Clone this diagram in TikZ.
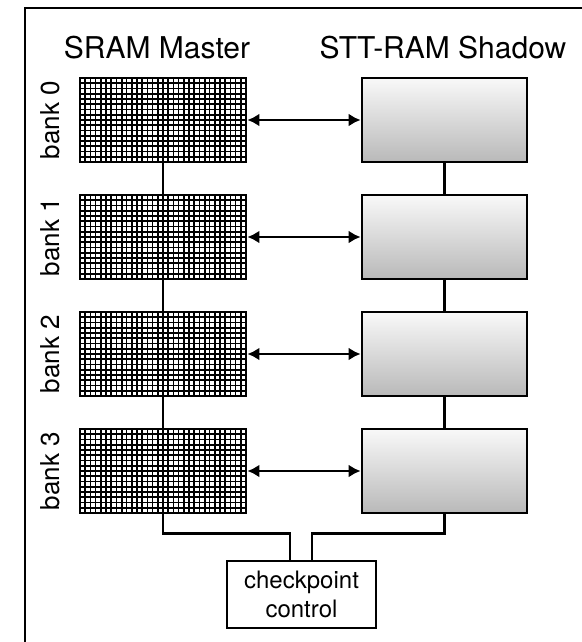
\documentclass[tikz,border=0pt]{standalone}
\usepackage{fontspec}
\setmainfont{TeX Gyre Heros}
\usetikzlibrary{arrows.meta}
\begin{document}
\begin{tikzpicture}[x=0.5pt, y=-0.5pt, line width=1.2pt,
    sram/.style={draw, line width=1.4pt, fill=white, minimum width=83pt, minimum height=42pt, inner sep=0pt},
    stt/.style={draw, line width=1.4pt, top color=gray!5, bottom color=gray!55, minimum width=82.5pt, minimum height=42pt, inner sep=0pt},
    ctrlbox/.style={draw, line width=1.3pt, minimum width=74.5pt, minimum height=33.5pt, align=center, inner sep=0pt, font=\fontsize{12}{14.5}\selectfont},
    gridline/.style={line width=0.8pt},
    gridmajor/.style={line width=1pt},
    xfer/.style={{Latex[length=6pt,width=6.5pt]}-{Latex[length=6pt,width=6.5pt]}},
    banklabel/.style={rotate=90, font=\fontsize{13}{15}\selectfont},
    title/.style={font=\fontsize{15}{18}\selectfont}]
  \clip (0,0) rectangle (582,642);
  \draw[line width=1.4pt] (25,8) rectangle (620,680);
  \node[title] (mtitle) at (157,48) {SRAM Master};
  \node[title] (stitle) at (443,48) {STT-RAM Shadow};
  \foreach \i in {0,...,3}{
    \pgfmathsetmacro\yc{120+117*\i}
    \node[sram] (sram\i) at (163,\yc) {};
    \foreach \gx in {1,...,31}{
      \draw[gridline] (80+\gx*5.1875,\yc-42) -- ++(0,84);
    }
    \foreach \gy in {1,...,15}{
      \draw[gridline] (80,\yc-42+\gy*5.25) -- ++(166,0);
    }
    \foreach \gx in {8,16,24}{
      \draw[gridmajor] (80+\gx*5.1875,\yc-42) -- ++(0,84);
    }
    \draw[gridmajor] (80,\yc) -- ++(166,0);
    \node[sram, fill=none] at (sram\i) {};
    \node[stt] (stt\i) at (444.5,\yc) {};
    \node[banklabel] (bank\i) at (50,\yc) {bank \i};
    \draw[xfer] (sram\i) -- (stt\i);
  }
  \foreach \i/\j in {0/1, 1/2, 2/3}{
    \draw (sram\i.south) -- (sram\j.north);
    \draw (stt\i.south) -- (stt\j.north);
  }
  \node[ctrlbox] (ctrl) at (301.5,594.5) {checkpoint\\control};
  \draw (sram3.south) -- ++(0,19) -| ([xshift=-5.75pt]ctrl.north);
  \draw (stt3.south) -- ++(0,19) -| ([xshift=5.25pt]ctrl.north);
\end{tikzpicture}
\end{document}
